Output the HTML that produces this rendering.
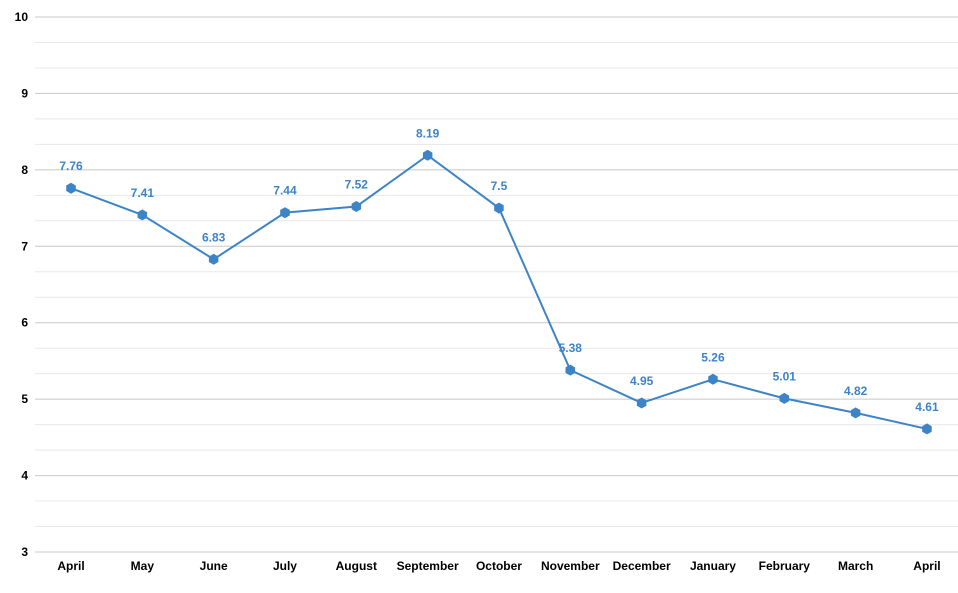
<!DOCTYPE html>
<html><head><meta charset="utf-8"><style>
body{margin:0;background:#fff;}
svg{display:block;font-family:"Liberation Sans",Arial,sans-serif;}
</style></head><body>
<svg id="chart" width="958" height="593"></svg>
<script>
const categories=["April","May","June","July","August","September","October","November","December","January","February","March","April"];
const values=[7.76,7.41,6.83,7.44,7.52,8.19,7.5,5.38,4.95,5.26,5.01,4.82,4.61];
const yTicks=[3,4,5,6,7,8,9,10];
const NS="http://www.w3.org/2000/svg";
const svg=document.getElementById("chart");
const x0=71,dx=71.33,yTop=17,yBot=552,yMin=3,yMax=10;
const xs=i=>x0+i*dx;
const ys=v=>yBot-(v-yMin)/(yMax-yMin)*(yBot-yTop);
function mk(t,a){const e=document.createElementNS(NS,t);for(const k in a)e.setAttribute(k,a[k]);svg.appendChild(e);return e;}
for(let v=yMin;v<=yMax+1e-9;v+=1/3){
  const major=Math.abs(v-Math.round(v))<1e-6;
  const l=mk("line",{x1:35,x2:958,y1:ys(v),y2:ys(v),stroke:major?"#c8c8c8":"#e8e8e8","stroke-width":1});
  
  
}
yTicks.forEach(t=>{
  const e=mk("text",{x:28,y:ys(t)+4,"text-anchor":"end","font-size":12,"font-weight":"bold",fill:"#000"});
  e.textContent=t;
  
  
});
categories.forEach((c,i)=>{
  const e=mk("text",{x:xs(i),y:570,"text-anchor":"middle","font-size":12,"font-weight":"bold",fill:"#000"});
  e.textContent=c;
  
  
});
const line=mk("polyline",{points:values.map((v,i)=>xs(i)+","+ys(v)).join(" "),fill:"none",stroke:"#3d84c6","stroke-width":2});


values.forEach((v,i)=>{
  const cx=xs(i),cy=ys(v),r=5.5;
  const pts=[];for(let k=0;k<6;k++){const a=Math.PI/6+k*Math.PI/3;pts.push((cx+r*Math.cos(a)).toFixed(1)+","+(cy+r*Math.sin(a)).toFixed(1));}
  const p=mk("polygon",{points:pts.join(" "),fill:"#3d84c6"});
  
  
  const t=mk("text",{x:cx,y:cy-18,"text-anchor":"middle","font-size":12,"font-weight":"bold",fill:"#3d84c6"});
  t.textContent=v;
  
  
});
</script>
</body></html>
